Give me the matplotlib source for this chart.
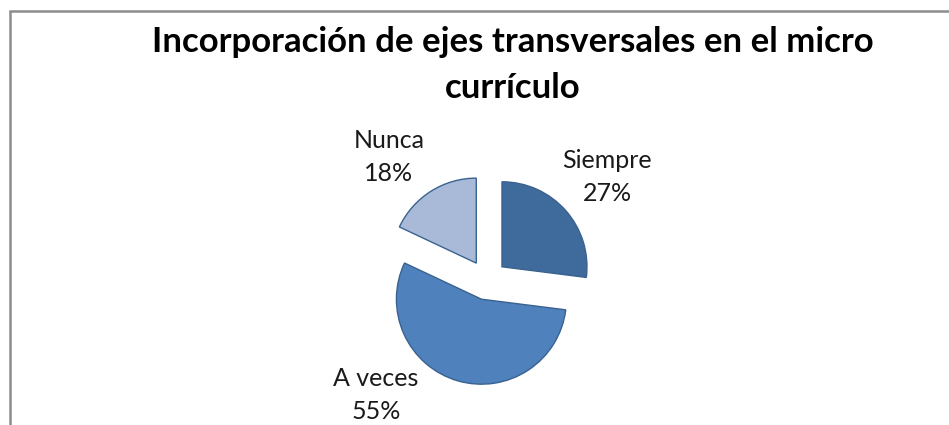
import matplotlib.pyplot as plt
from matplotlib.patches import Rectangle

# data
categories = ['Siempre', 'A veces', 'Nunca']
values = [27, 55, 18]
colors = ['#3e6a9c', '#4f81bd', '#a9bad9']
title = 'Incorporación de ejes transversales en el micro\ncurrículo'

W, H = 949, 425
fig = plt.figure(figsize=(W / 100, H / 100), dpi=100)
fig.patch.set_facecolor('white')

# chart frame (only top and left edges visible in the crop)
fig.add_artist(Rectangle((10 / W, -0.1), 1.2, (H - 11) / H + 0.1, transform=fig.transFigure,
                         fill=False, edgecolor='#8c8c8c', linewidth=1.8))

# pie centre / radius in pixels
cx, cy, r = 487, 280, 85
ax = fig.add_axes([0, 0, 1, 1])
wedges, _ = ax.pie(values, colors=colors, startangle=90, counterclock=False,
                   explode=[0.235] * 3, radius=1,
                   wedgeprops=dict(edgecolor='#3a6290', linewidth=1.0))
ax.set_aspect('auto')
ax.set_xlim(-cx / r, (W - cx) / r)
ax.set_ylim(-(H - cy) / r, cy / r)
ax.axis('off')

# labels (pixel positions of the centre of each label block)
label_pos = {'Siempre': (607, 177), 'A veces': (376, 395), 'Nunca': (389, 157)}
for cat, v in zip(categories, values):
    px, py = label_pos[cat]
    fig.text(px / W, 1 - py / H, f'{cat}\n{v}%', ha='center', va='center',
             fontsize=18, family='Lato', linespacing=1.5, color='#1a1a1a')

fig.text(513 / W, 1 - 65 / H, title, ha='center', va='center', fontsize=25,
         family='Lato', fontweight='bold', linespacing=1.5)

fig.savefig('out.png', dpi=100, facecolor='white')
